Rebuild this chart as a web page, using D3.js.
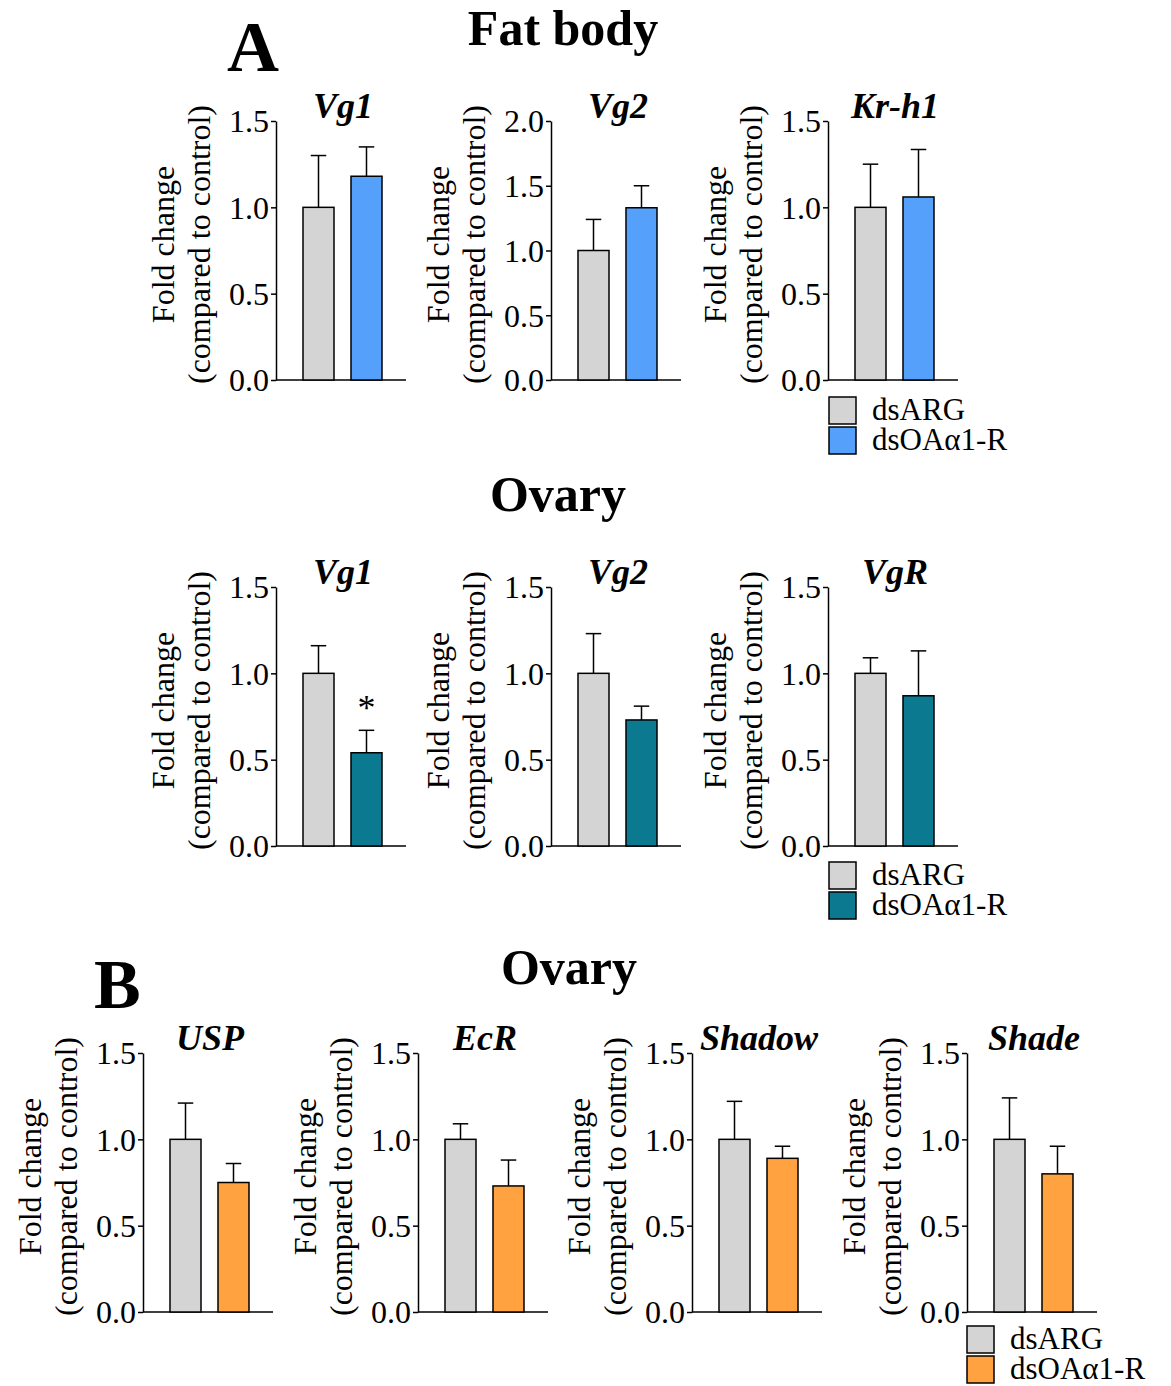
<!DOCTYPE html>
<html>
<head>
<meta charset="utf-8">
<script src="https://cdn.jsdelivr.net/npm/d3@7"></script>
<style>
  body { margin: 0; background: #fff; }
  svg text { font-family: "Liberation Serif", "Times New Roman", serif; fill: #000; }
</style>
</head>
<body>
<div id="chart"></div>
<script>
// groups (legend)
const groups = ["dsARG", "dsOAα1-R"];

// A - Fat body
const fatGenes = ["Vg1", "Vg2", "Kr-h1"];
const fatMax = [1.5, 2.0, 1.5];
const fatCtrl = [1.0, 1.0, 1.0];
const fatCtrlErr = [0.30, 0.24, 0.25];
const fatTreat = [1.18, 1.33, 1.06];
const fatTreatErr = [0.17, 0.17, 0.275];

// A - Ovary
const ovaGenes = ["Vg1", "Vg2", "VgR"];
const ovaMax = [1.5, 1.5, 1.5];
const ovaCtrl = [1.0, 1.0, 1.0];
const ovaCtrlErr = [0.16, 0.23, 0.09];
const ovaTreat = [0.54, 0.73, 0.87];
const ovaTreatErr = [0.13, 0.08, 0.26];
const ovaSig = ["*", "", ""];

// B - Ovary
const bGenes = ["USP", "EcR", "Shadow", "Shade"];
const bMax = [1.5, 1.5, 1.5, 1.5];
const bCtrl = [1.0, 1.0, 1.0, 1.0];
const bCtrlErr = [0.21, 0.09, 0.22, 0.24];
const bTreat = [0.75, 0.73, 0.89, 0.80];
const bTreatErr = [0.11, 0.15, 0.07, 0.16];

const W = 1171, H = 1386;
const svg = d3.select("#chart").append("svg")
  .attr("width", W).attr("height", H);
svg.append("rect").attr("width", W).attr("height", H).attr("fill", "#fff");

const plotH = 259, plotW = 130;

function drawPanel(x0, y0, gene, yMax, ctrl, ctrlErr, treat, treatErr, color, sig) {
  const g = svg.append("g").attr("transform", `translate(${x0},${y0})`);
  const x = d3.scaleBand().domain(groups).range([0, 133])
    .paddingInner(0.354).paddingOuter(0.5625);
  const y = d3.scaleLinear().domain([0, yMax]).range([plotH, 0]);

  const yAxis = g.append("g")
    .call(d3.axisLeft(y).tickValues(d3.range(0, yMax + 0.01, 0.5))
      .tickFormat(d3.format(".1f")).tickSize(5).tickPadding(2).tickSizeOuter(0));
  yAxis.selectAll("text").style("font-size", "32px").attr("dy", "0.34em");
  yAxis.selectAll("path, line").attr("stroke", "#000").attr("stroke-width", 1.5);

  const xAxis = g.append("g").attr("transform", `translate(0,${plotH})`)
    .call(d3.axisBottom(x).tickValues([]).tickSizeOuter(0));
  xAxis.select("path").attr("d", `M0,0H${plotW}`).attr("stroke", "#000").attr("stroke-width", 1.5);

  const rows = [
    { k: groups[0], v: ctrl, e: ctrlErr, c: "#d4d4d4" },
    { k: groups[1], v: treat, e: treatErr, c: color }
  ];

  // error bars (upper only)
  const eb = g.selectAll(".eb").data(rows).join("g");
  eb.append("line")
    .attr("x1", d => x(d.k) + x.bandwidth() / 2)
    .attr("x2", d => x(d.k) + x.bandwidth() / 2)
    .attr("y1", d => y(d.v))
    .attr("y2", d => y(d.v + d.e))
    .attr("stroke", "#000").attr("stroke-width", 1.5);
  eb.append("line")
    .attr("x1", d => x(d.k) + x.bandwidth() / 4)
    .attr("x2", d => x(d.k) + x.bandwidth() * 3 / 4)
    .attr("y1", d => y(d.v + d.e))
    .attr("y2", d => y(d.v + d.e))
    .attr("stroke", "#000").attr("stroke-width", 1.5);

  g.selectAll(".bar").data(rows).join("rect")
    .attr("x", d => x(d.k))
    .attr("y", d => y(d.v))
    .attr("width", x.bandwidth())
    .attr("height", d => y(0) - y(d.v))
    .attr("fill", d => d.c)
    .attr("stroke", "#000").attr("stroke-width", 1.5);

  if (sig) {
    g.append("text")
      .attr("x", x(groups[1]) + x.bandwidth() / 2)
      .attr("y", y(treat + treatErr) - 10)
      .attr("text-anchor", "middle")
      .style("font-size", "36px")
      .text(sig);
  }

  // gene title
  g.append("text")
    .attr("x", 67).attr("y", -3)
    .attr("text-anchor", "middle")
    .style("font-size", "36px").style("font-weight", "bold").style("font-style", "italic")
    .text(gene);

  // y label
  const lab = g.append("text")
    .attr("transform", `translate(-102,${plotH / 2 - 6}) rotate(-90)`)
    .attr("text-anchor", "middle")
    .style("font-size", "32px");
  lab.append("tspan").attr("x", 0).attr("dy", 0).text("Fold change");
  lab.append("tspan").attr("x", 0).attr("dy", 36).text("(compared to control)");
}

function drawLegend(x0, y0, color) {
  const items = [{ k: groups[0], c: "#d4d4d4" }, { k: groups[1], c: color }];
  const lg = svg.append("g").attr("transform", `translate(${x0},${y0})`);
  const it = lg.selectAll("g").data(items).join("g")
    .attr("transform", (d, i) => `translate(0,${i * 30})`);
  it.append("rect").attr("width", 27).attr("height", 27)
    .attr("fill", d => d.c).attr("stroke", "#000").attr("stroke-width", 1.5);
  it.append("text").attr("x", 43).attr("y", 23)
    .style("font-size", "31px").text(d => d.k);
}

function bigText(x, y, t, size, anchor) {
  svg.append("text").attr("x", x).attr("y", y)
    .attr("text-anchor", anchor || "middle")
    .style("font-size", size + "px").style("font-weight", "bold")
    .text(t);
}

// Headings
bigText(227, 71, "A", 72, "start");
bigText(563, 45, "Fat body", 50);
bigText(558, 511, "Ovary", 50);
bigText(94, 1008, "B", 70, "start");
bigText(569, 984, "Ovary", 50);

// Row 1: Fat body
const rowAx = [276, 551, 828];
fatGenes.forEach((gname, i) => {
  drawPanel(rowAx[i], 121, gname, fatMax[i], fatCtrl[i], fatCtrlErr[i], fatTreat[i], fatTreatErr[i], "#55a0fa", "");
});
drawLegend(829, 397, "#55a0fa");

// Row 2: Ovary
ovaGenes.forEach((gname, i) => {
  drawPanel(rowAx[i], 587, gname, ovaMax[i], ovaCtrl[i], ovaCtrlErr[i], ovaTreat[i], ovaTreatErr[i], "#0b7a90", ovaSig[i]);
});
drawLegend(829, 862, "#0b7a90");

// Row 3: B Ovary
const rowBx = [143, 418, 692, 967];
bGenes.forEach((gname, i) => {
  drawPanel(rowBx[i], 1053, gname, bMax[i], bCtrl[i], bCtrlErr[i], bTreat[i], bTreatErr[i], "#ffa23f", "");
});
drawLegend(967, 1326, "#ffa23f");
</script>
</body>
</html>
